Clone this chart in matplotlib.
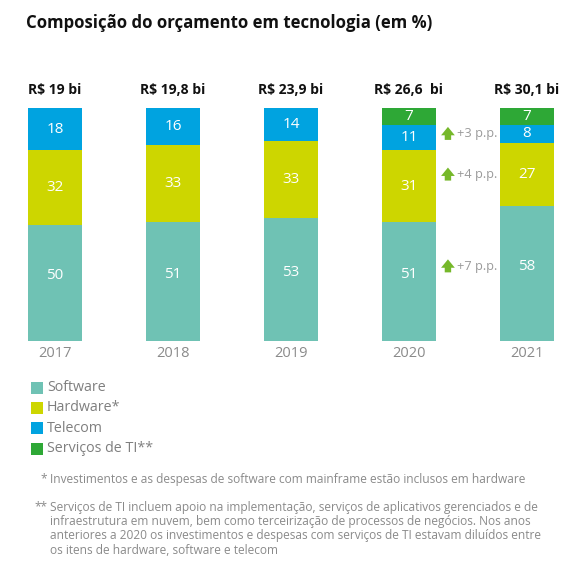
import matplotlib
matplotlib.use("Agg")
import matplotlib.pyplot as plt
from matplotlib.patches import Rectangle
import numpy as np

plt.rcParams['font.family'] = ['Open Sans', 'DejaVu Sans']

years = ["2017", "2018", "2019", "2020", "2021"]
totals = ["R$ 19 bi", "R$ 19,8 bi", "R$ 23,9 bi", "R$ 26,6  bi", "R$ 30,1 bi"]
series_names = ["Software", "Hardware*", "Telecom", "Serviços de TI**"]
software = [50, 51, 53, 51, 58]
hardware = [32, 33, 33, 31, 27]
telecom = [18, 16, 14, 11, 8]
servicos = [0, 0, 0, 7, 7]
changes = ["+3 p.p.", "+4 p.p.", "+7 p.p."]  # telecom/hardware/software rows, 2020->2021
colors = ["#6fc2b4", "#cdd600", "#00a3e0", "#2ea836"]
title = "Composição do orçamento em tecnologia (em %)"
foot1 = "Investimentos e as despesas de software com mainframe estão inclusos em hardware"
foot2_lines = [
    "Serviços de TI incluem apoio na implementação, serviços de aplicativos gerenciados e de",
    "infraestrutura em nuvem, bem como terceirização de processos de negócios. Nos anos",
    "anteriores a 2020 os investimentos e despesas com serviços de TI estavam diluídos entre",
    "os itens de hardware, software e telecom",
]

W, H = 578, 563
fig = plt.figure(figsize=(W / 100, H / 100), dpi=100)
fig.patch.set_facecolor("white")

def fy(py):
    return 1 - py / H

def fx(px):
    return px / W

ax = fig.add_axes([0, fy(340.7), 1, fy(108.3) - fy(340.7)])
ax.set_xlim(-55 / 118, 4 + (578 - 527) / 118)
ax.set_ylim(0, 100)
ax.axis("off")

x = np.arange(len(years))
bw = 53.5 / 118
data = [software, hardware, telecom, servicos]
bottom = np.zeros(len(years))
label_pos = []
for i, (vals, c) in enumerate(zip(data, colors)):
    vals = np.array(vals, dtype=float)
    ax.bar(x, vals, bw, bottom=bottom, color=c, edgecolor="none")
    pos = []
    for j, v in enumerate(vals):
        yc = bottom[j] + v / 2 + (3 if i == 0 else 0)
        pos.append(yc)
        if v > 0:
            ax.text(x[j], yc, f"{int(v)}", ha="center", va="center",
                    color="white", fontsize=11)
    label_pos.append(pos)
    bottom = bottom + vals

for j, t in enumerate(totals):
    ax.text(x[j], 108, t, ha="center", va="center", fontsize=10,
            fontweight="bold", color="#111111")
    ax.text(x[j], -5.3, years[j], ha="center", va="center", fontsize=10.5,
            color="#8a8a8a")

# change annotations next to 2020 bar, aligned with 2021 labels
rows = [2, 1, 0]
for lab, r in zip(changes, rows):
    yv = label_pos[r][4]
    ax.annotate("", xy=(3.33, yv + 3.0), xytext=(3.33, yv - 2.6),
                arrowprops=dict(arrowstyle="simple,head_width=0.9,head_length=0.55,tail_width=0.42",
                                mutation_scale=11, color="#76b82a", lw=0,
                                shrinkA=0, shrinkB=0))
    ax.text(3.405, yv, lab, ha="left", va="center", fontsize=9.2, color="#9a9a9a")

fig.text(fx(26), fy(23), title, ha="left", va="center", fontsize=12.05,
         fontweight="bold", color="#111111")

# legend
leg_y = [387.5, 407.8, 428.2, 448.8]
for name, c, py in zip(series_names, colors, leg_y):
    fig.patches.append(Rectangle((fx(31), fy(py + 6)), 12 / W, 12 / H,
                                 transform=fig.transFigure, facecolor=c,
                                 edgecolor="none"))
    fig.text(fx(47), fy(py), name, ha="left", va="center", fontsize=10.3,
             color="#7f7f7f")

fs = 8.6
fig.text(fx(40), fy(479), "*", ha="left", va="center", fontsize=fs, color="#8a8a8a")
fig.text(fx(50), fy(479), foot1, ha="left", va="center", fontsize=fs,
         color="#8a8a8a")
fig.text(fx(34), fy(507), "**", ha="left", va="center", fontsize=fs,
         color="#8a8a8a")
for k, line in enumerate(foot2_lines):
    fig.text(fx(50), fy(507 + k * 14.5), line, ha="left", va="center",
             fontsize=fs, color="#8a8a8a")

fig.savefig("out.png", dpi=100, facecolor="white")
